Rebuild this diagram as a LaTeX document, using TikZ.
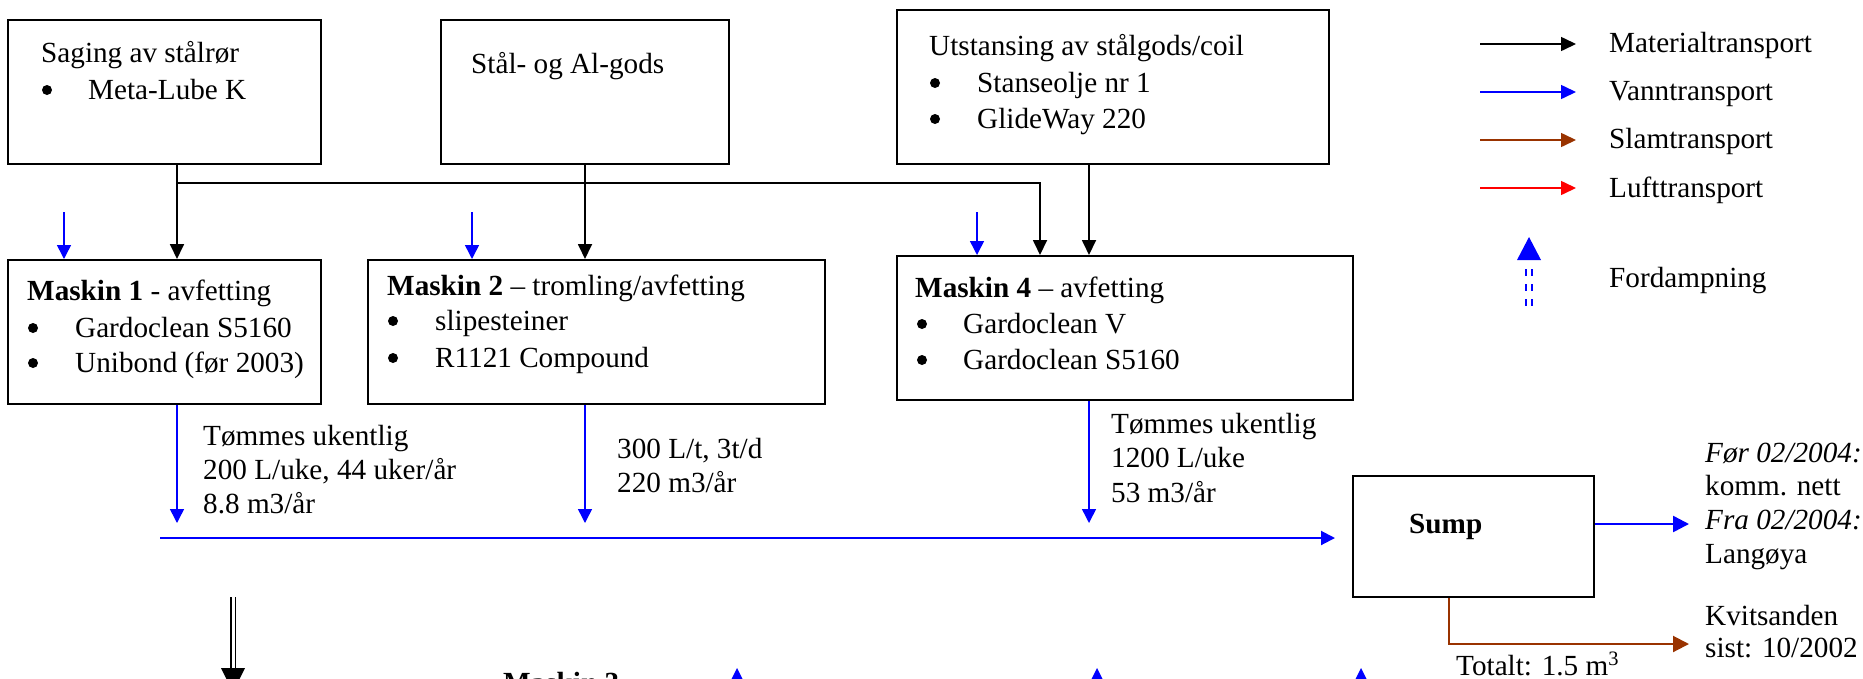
\documentclass[tikz,border=0pt]{standalone}
\usepackage{fontspec}
\setmainfont{Liberation Serif}
\usetikzlibrary{arrows.meta,fit}
\definecolor{slamc}{RGB}{153,51,0}
\begin{document}
\begin{tikzpicture}[x=1pt,y=-1pt,
  box/.style={draw, line width=2pt, inner sep=0pt},
  txt/.style={anchor=base west, inner sep=0pt, font=\fontsize{29.2}{34}\selectfont},
  bul/.style={circle, fill, inner sep=0pt, minimum size=10pt, yshift=9pt},
  mat/.style={line width=1.8pt, -{Triangle[length=15pt,width=14pt]}},
  vann/.style={blue, line width=1.5pt, -{Triangle[length=14pt,width=14pt]}},
  slamarr/.style={slamc, line width=2pt, -{Triangle[length=16pt,width=16pt]}},
  luftarr/.style={red, line width=1.5pt, -{Triangle[length=15pt,width=14pt]}},
  legarr/.style={line width=1.5pt, -{Triangle[length=15pt,width=14pt]}}
]
\useasboundingbox (0,0) rectangle (1863,678);
\clip (0,0) rectangle (1863,678);

% boxes
\node[box, fit={(8,20)(321,164)}] (saging) {};
\node[box, fit={(441,20)(729,164)}] (staal) {};
\node[box, fit={(897,10)(1329,164)}] (utst) {};
\node[box, fit={(8,260)(321,404)}] (m1) {};
\node[box, fit={(368,260)(825,404)}] (m2) {};
\node[box, fit={(897,256)(1353,400)}] (m4) {};
\node[box, fit={(1353,476)(1594,597)}] (sump) {};

% box texts
\node[txt] (ts1) at (41,62) {Saging av stålrør};
\node[bul] (bs1) at (47,99) {};
\node[txt] (ts2) at (88,99) {Meta-Lube K};
\node[txt] (tst) at (471,73) {Stål- og Al-gods};
\node[txt] (tu1) at (929,55) {Utstansing av stålgods/coil};
\node[bul] (bu1) at (935,92) {};
\node[txt] (tu2) at (977,92) {Stanseolje nr 1};
\node[bul] (bu2) at (935,128) {};
\node[txt] (tu3) at (977,128) {GlideWay 220};

\node[txt] (tm1) at (27,300) {\textbf{Maskin 1} - avfetting};
\node[bul] (bm11) at (33,337) {};
\node[txt] (tm11) at (75,337) {Gardoclean S5160};
\node[bul] (bm12) at (33,372) {};
\node[txt] (tm12) at (75,372) {Unibond (før 2003)};

\node[txt] (tm2) at (387,295) {\textbf{Maskin 2} – tromling/avfetting};
\node[bul] (bm21) at (393,330) {};
\node[txt] (tm21) at (435,330) {slipesteiner};
\node[bul] (bm22) at (393,367) {};
\node[txt] (tm22) at (435,367) {R1121 Compound};

\node[txt] (tm4) at (915,297) {\textbf{Maskin 4} – avfetting};
\node[bul] (bm41) at (922,333) {};
\node[txt] (tm41) at (963,333) {Gardoclean V};
\node[bul] (bm42) at (922,369) {};
\node[txt] (tm42) at (963,369) {Gardoclean S5160};

\node[txt] (tsump) at (1409,533) {\textbf{Sump}};

% flow labels
\node[txt] (l11) at (203,445) {Tømmes ukentlig};
\node[txt] (l12) at (203,479) {200 L/uke, 44 uker/år};
\node[txt] (l13) at (203,513) {8.8 m3/år};
\node[txt] (l21) at (617,458) {300 L/t, 3t/d};
\node[txt] (l22) at (617,492) {220 m3/år};
\node[txt] (l41) at (1111,433) {Tømmes ukentlig};
\node[txt] (l42) at (1111,467) {1200 L/uke};
\node[txt] (l43) at (1111,502) {53 m3/år};

\node[txt] (r1) at (1705,462) {\textit{Før 02/2004:}};
\node[txt] (r2) at (1705,495) {komm. nett};
\node[txt] (r3) at (1705,529) {\textit{Fra 02/2004:}};
\node[txt] (r4) at (1705,563) {Langøya};
\node[txt] (r5) at (1705,625) {Kvitsanden};
\node[txt] (r6) at (1705,657) {sist: 10/2002};
\node[txt] (tot) at (1456,675) {Totalt: 1.5 m\textsuperscript{3}};

\node[txt] (tm3) at (503,692) {\textbf{Maskin 3}};

% material transport
\draw[mat] (177,0 |- saging.south) -- (177,0 |- m1.north);
\draw[mat] (177,183) -| (1040,0 |- m4.north);
\draw[mat] (585,0 |- staal.south) -- (585,0 |- m2.north);
\draw[mat] (1089,0 |- utst.south) -- (1089,0 |- m4.north);

% water in
\coordinate (w1) at (64,212);
\coordinate (w2) at (472,212);
\coordinate (w4) at (977,212);
\draw[vann] (w1) -- (w1 |- m1.north);
\draw[vann] (w2) -- (w2 |- m2.north);
\draw[vann] (w4) -- (w4 |- m4.north);

% water out
\coordinate (o1) at (177,523);
\coordinate (o2) at (585,523);
\coordinate (o4) at (1089,523);
\draw[vann] (o1 |- m1.south) -- (o1);
\draw[vann] (o2 |- m2.south) -- (o2);
\draw[vann] (o4 |- m4.south) -- (o4);

% collecting line
\coordinate (c0) at (160,538);
\coordinate (c1) at (203,538);
\coordinate (c2) at (493,538);
\draw[blue, line width=2pt] (c0) -- (c1);
\draw[blue, line width=1.3pt] (c1) -- (c2);
\draw[vann, line width=2pt, shorten >=17pt] (c2) -- (c2 -| sump.west);

% sump outputs
\coordinate (sOut) at (1689,524);
\draw[vann, line width=2.5pt, -{Triangle[length=16pt,width=16pt]}] (sump.east |- sOut) -- (sOut);
\coordinate (slOut) at (1689,644);
\draw[slamarr] (1449,0 |- sump.south) |- (slOut);

% double arrow down (cut off)
\coordinate (d0) at (233,597);
\coordinate (d1) at (233,668);
\draw[line width=1.5pt, double distance=3pt] (d0) -- (d1);
\fill (221,668) -- (245,668) -- (233,692) -- cycle;

% evaporation tips at bottom
\fill[blue] (737,668) -- (725,692) -- (749,692) -- cycle;
\fill[blue] (1097,668) -- (1085,692) -- (1109,692) -- cycle;
\fill[blue] (1361,668) -- (1349,692) -- (1373,692) -- cycle;

% legend
\coordinate (la0) at (1480,44); \coordinate (la1) at (1576,44);
\coordinate (lb0) at (1480,92); \coordinate (lb1) at (1576,92);
\coordinate (lc0) at (1480,140); \coordinate (lc1) at (1576,140);
\coordinate (ld0) at (1480,188); \coordinate (ld1) at (1576,188);
\draw[legarr] (la0) -- (la1);
\draw[legarr, blue] (lb0) -- (lb1);
\draw[legarr, slamc] (lc0) -- (lc1);
\draw[luftarr] (ld0) -- (ld1);
\node[txt] (g1) at (1609,52) {Materialtransport};
\node[txt] (g2) at (1609,100) {Vanntransport};
\node[txt] (g3) at (1609,148) {Slamtransport};
\node[txt] (g4) at (1609,197) {Lufttransport};
\node[txt] (g5) at (1609,287) {Fordampning};
\draw[blue, line width=2pt, dash pattern=on 7pt off 8pt] (1526,269) -- (1526,309);
\draw[blue, line width=2pt, dash pattern=on 7pt off 8pt] (1532,269) -- (1532,309);
\fill[blue] (1529,237) -- (1517,260) -- (1541,260) -- cycle;
\end{tikzpicture}
\end{document}
